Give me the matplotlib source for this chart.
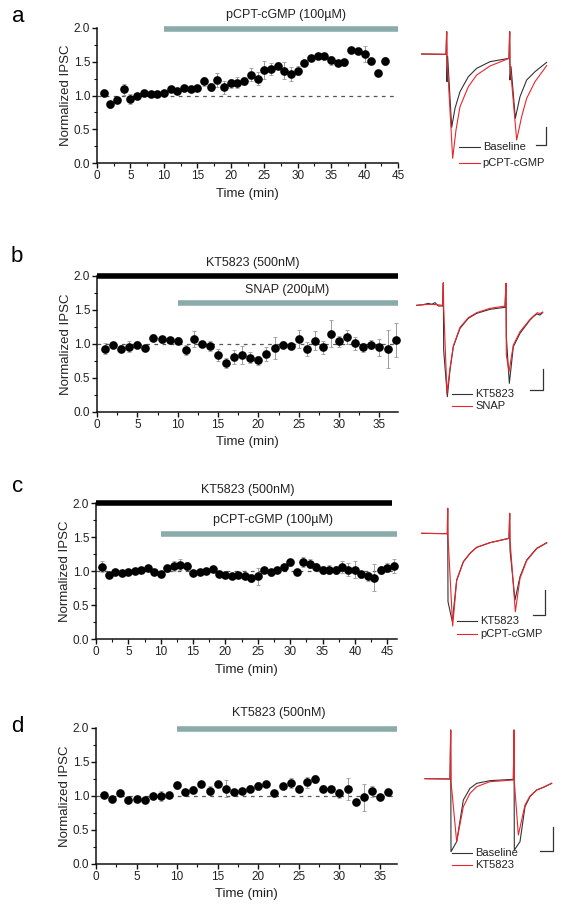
import numpy as np
import matplotlib
matplotlib.use('Agg')
import matplotlib.pyplot as plt
from matplotlib.ticker import MultipleLocator

plt.rcParams['font.family'] = ['Liberation Sans', 'DejaVu Sans']

# ---------------- data: time courses ----------------
time_a = list(range(1, 44))
ipsc_a = [1.04, 0.87, 0.93, 1.09, 0.95, 1.00, 1.03, 1.02, 1.02, 1.03,
          1.10, 1.06, 1.11, 1.09, 1.11, 1.21, 1.13, 1.23, 1.12, 1.18,
          1.19, 1.22, 1.31, 1.25, 1.38, 1.39, 1.44, 1.37, 1.32, 1.37,
          1.48, 1.56, 1.58, 1.59, 1.52, 1.48, 1.49, 1.67, 1.66, 1.61,
          1.51, 1.33, 1.51]
err_a = [0.04, 0.05, 0.04, 0.08, 0.07, 0.04, 0.03, 0.02, 0.03, 0.03,
         0.04, 0.03, 0.04, 0.04, 0.05, 0.07, 0.06, 0.10, 0.10, 0.07,
         0.08, 0.06, 0.10, 0.10, 0.13, 0.09, 0.05, 0.12, 0.10, 0.07,
         0.04, 0.03, 0.03, 0.04, 0.07, 0.05, 0.05, 0.04, 0.04, 0.12,
         0.04, 0.04, 0.06]

time_b = list(range(1, 38))
ipsc_b = [0.93, 0.98, 0.93, 0.96, 0.99, 0.94, 1.09, 1.07, 1.06, 1.05,
          0.91, 1.07, 1.00, 0.97, 0.84, 0.72, 0.81, 0.84, 0.80, 0.76,
          0.85, 0.94, 0.99, 0.97, 1.07, 0.93, 1.05, 0.95, 1.15, 1.04,
          1.10, 1.01, 0.95, 0.99, 0.95, 0.93, 1.06]
err_b = [0.08, 0.04, 0.05, 0.08, 0.05, 0.05, 0.05, 0.05, 0.05, 0.05,
         0.07, 0.12, 0.05, 0.08, 0.09, 0.08, 0.10, 0.13, 0.08, 0.07,
         0.10, 0.16, 0.05, 0.05, 0.13, 0.10, 0.14, 0.10, 0.20, 0.08,
         0.10, 0.10, 0.07, 0.07, 0.12, 0.28, 0.25]

time_c = list(range(1, 47))
ipsc_c = [1.06, 0.94, 0.98, 0.97, 0.98, 1.00, 1.01, 1.04, 0.99, 0.96,
          1.04, 1.07, 1.09, 1.07, 0.97, 0.98, 1.00, 1.03, 0.95, 0.94,
          0.93, 0.94, 0.93, 0.90, 0.92, 1.01, 0.98, 1.02, 1.06, 1.13,
          0.99, 1.13, 1.11, 1.06, 1.02, 1.02, 1.02, 1.06, 1.02, 1.02,
          0.95, 0.92, 0.90, 1.01, 1.05, 1.07]
err_c = [0.08, 0.04, 0.03, 0.03, 0.03, 0.03, 0.03, 0.03, 0.03, 0.03,
         0.05, 0.07, 0.08, 0.06, 0.04, 0.03, 0.03, 0.03, 0.04, 0.04,
         0.04, 0.04, 0.04, 0.06, 0.12, 0.04, 0.05, 0.04, 0.05, 0.05,
         0.04, 0.07, 0.07, 0.06, 0.06, 0.07, 0.06, 0.09, 0.10, 0.12,
         0.05, 0.07, 0.20, 0.06, 0.07, 0.10]

time_d = list(range(1, 37))
ipsc_d = [1.01, 0.96, 1.05, 0.94, 0.96, 0.94, 1.00, 1.00, 1.02, 1.16,
          1.06, 1.09, 1.17, 1.08, 1.17, 1.11, 1.06, 1.08, 1.11, 1.15,
          1.17, 1.05, 1.14, 1.19, 1.11, 1.20, 1.25, 1.11, 1.10, 1.04,
          1.10, 0.91, 0.98, 1.07, 0.99, 1.06]
err_d = [0.03, 0.03, 0.04, 0.03, 0.03, 0.03, 0.04, 0.07, 0.03, 0.05,
         0.04, 0.05, 0.04, 0.06, 0.04, 0.12, 0.04, 0.03, 0.05, 0.06,
         0.04, 0.04, 0.04, 0.07, 0.05, 0.08, 0.06, 0.05, 0.04, 0.07,
         0.16, 0.04, 0.20, 0.08, 0.04, 0.04]

# ---------------- data: example traces (arbitrary units) ----------------
tr_a_black_t = [35, 108, 110, 111, 113, 125, 135, 150, 175, 200, 240, 280, 297, 299, 300, 303, 316, 330, 350, 375, 410]
tr_a_black_i = [0, -1, 67, -83, -8, -220, -163, -113, -68, -43, -23, -16, -13, 67, -78, -38, -193, -128, -78, -53, -25]
tr_a_red_t = [35, 108, 110, 111, 128, 138, 150, 175, 200, 240, 280, 297, 299, 300, 320, 335, 350, 375, 410]
tr_a_red_i = [0, -1, 67, -8, -313, -228, -158, -98, -63, -36, -20, -13, 67, -28, -258, -188, -133, -83, -35]

tr_b_black_t = [20, 40, 55, 65, 75, 85, 98, 100, 101, 112, 120, 130, 150, 175, 200, 240, 285, 288, 289, 298, 310, 330, 360, 370, 380, 390, 398]
tr_b_black_i = [-1, 1, 5, 2, 7, -3, -3, 65, -135, -275, -195, -125, -70, -40, -25, -13, -7, 65, -95, -235, -125, -85, -45, -35, -27, -30, -23]
tr_b_red_t = [20, 40, 60, 80, 98, 100, 101, 111, 120, 130, 150, 175, 200, 240, 285, 288, 289, 297, 310, 330, 360, 372, 382, 390, 398]
tr_b_red_i = [-1, 1, 2, 1, -1, 67, -5, -265, -190, -123, -67, -38, -23, -10, -3, 65, -150, -200, -120, -80, -43, -32, -23, -26, -21]

tr_c_black_t = [35, 112, 113, 114, 127, 140, 160, 180, 200, 240, 297, 299, 300, 315, 330, 350, 380, 410]
tr_c_black_i = [0, -1, 75, -205, -265, -140, -85, -60, -42, -28, -15, 60, -50, -200, -130, -80, -45, -28]
tr_c_red_t = [35, 112, 113, 114, 128, 140, 160, 180, 200, 240, 297, 299, 300, 316, 330, 350, 380, 410]
tr_c_red_i = [0, -1, 75, -10, -278, -142, -86, -60, -42, -28, -15, 60, -20, -235, -135, -82, -46, -29]

tr_d_black_t = [45, 120, 122, 123, 140, 160, 180, 200, 240, 310, 312, 313, 330, 345, 360, 380, 400, 425]
tr_d_black_i = [1, 0, 147, -218, -188, -63, -28, -13, -5, -1, 147, -213, -188, -83, -53, -33, -25, -13]
tr_d_red_t = [45, 120, 122, 123, 140, 160, 180, 200, 240, 310, 312, 313, 325, 345, 360, 380, 400, 425]
tr_d_red_i = [1, 0, 147, -8, -188, -83, -43, -23, -8, -3, 147, -8, -168, -78, -51, -33, -25, -13]

legend_a = ['Baseline', 'pCPT-cGMP']
legend_b = ['KT5823', 'SNAP']
legend_c = ['KT5823', 'pCPT-cGMP']
legend_d = ['Baseline', 'KT5823']

# ---------------- styling ----------------
TEAL = '#8aaba9'
RED = '#e8262c'
TRACE_BLACK = '#333333'
TXT = '#222222'

W, H = 566, 906
fig = plt.figure(figsize=(W / 100, H / 100), dpi=100)


def rect(x0, y0, x1, y1):
    return [x0 / W, 1 - y1 / H, (x1 - x0) / W, (y1 - y0) / H]


panels = [
    dict(letter='a', t=time_a, y=ipsc_a, e=err_a, xmax=45, box=rect(97, 28, 398, 163),
         bars=[(10, 45, 1.98, TEAL, 'pCPT-cGMP (100\u00b5M)', 28.3, 2.19)],
         letter_xy=(12, 16),
         ibox=rect(410, 20, 566, 200), base=102, ih=540,
         traces=(tr_a_black_t, tr_a_black_i, tr_a_red_t, tr_a_red_i),
         sbar=(378, 408, -218, -273), leg=legend_a, leg_xy=(148, 382, 428)),
    dict(letter='b', t=time_b, y=ipsc_b, e=err_b, xmax=37.3, box=rect(97, 276, 398, 412),
         bars=[(0, 37.3, 2.0, 'black', 'KT5823 (500nM)', 19.3, 2.19),
               (10, 37.3, 1.60, TEAL, 'SNAP (200\u00b5M)', 23.6, 1.79)],
         letter_xy=(11, 257),
         ibox=rect(410, 270, 566, 430), base=105, ih=480,
         traces=(tr_b_black_t, tr_b_black_i, tr_b_red_t, tr_b_red_i),
         sbar=(360, 400, -193, -255), leg=legend_b, leg_xy=(125, 372, 408)),
    dict(letter='c', t=time_c, y=ipsc_c, e=err_c, xmax=46.5, box=rect(96, 503, 397, 639),
         bars=[(0, 45.7, 2.0, 'black', 'KT5823 (500nM)', 23.4, 2.19),
               (10, 46.5, 1.54, TEAL, 'pCPT-cGMP (100\u00b5M)', 27.3, 1.75)],
         letter_xy=(12, 487),
         ibox=rect(410, 490, 566, 650), base=130, ih=480,
         traces=(tr_c_black_t, tr_c_black_i, tr_c_red_t, tr_c_red_i),
         sbar=(370, 405, -170, -245), leg=legend_c, leg_xy=(140, 393, 432)),
    dict(letter='d', t=time_d, y=ipsc_d, e=err_d, xmax=37.1, box=rect(96, 728, 397, 864),
         bars=[(10, 37.1, 1.98, TEAL, 'KT5823 (500nM)', 22.5, 2.22)],
         letter_xy=(11, 727),
         ibox=rect(410, 710, 566, 890), base=207, ih=540,
         traces=(tr_d_black_t, tr_d_black_i, tr_d_red_t, tr_d_red_i),
         sbar=(390, 430, -145, -215), leg=legend_d, leg_xy=(125, 428, 466)),
]

for p in panels:
    ax = fig.add_axes(p['box'])
    ax.set_xlim(0, p['xmax'])
    ax.set_ylim(0, 2.0)
    for s in ('top', 'right'):
        ax.spines[s].set_visible(False)
    for s in ('left', 'bottom'):
        ax.spines[s].set_linewidth(1.1)
        ax.spines[s].set_color('#111111')
    ax.xaxis.set_major_locator(MultipleLocator(5))
    ax.xaxis.set_minor_locator(MultipleLocator(2.5))
    ax.yaxis.set_major_locator(MultipleLocator(0.5))
    ax.yaxis.set_minor_locator(MultipleLocator(0.25))
    ax.yaxis.set_major_formatter(matplotlib.ticker.FormatStrFormatter('%.1f'))
    ax.tick_params(which='major', direction='out', length=3.5, width=1, labelsize=8.5,
                   colors='#111111', labelcolor=TXT, pad=1.5)
    ax.tick_params(which='minor', direction='out', length=2, width=0.8, colors='#111111')
    ax.set_xlabel('Time (min)', fontsize=9.5, color=TXT, labelpad=4)
    ax.set_ylabel('Normalized IPSC', fontsize=9.5, color=TXT, labelpad=1)

    ax.axhline(1.0, color='#555555', lw=0.9, ls=(0, (3, 3.5)), zorder=1)
    ax.errorbar(p['t'], p['y'], yerr=p['e'], fmt='o', color='black', ms=5.2,
                ecolor='#9a9a9a', elinewidth=0.7, capsize=1.5, capthick=0.6, zorder=3,
                clip_on=False)

    for (x0, x1, yy, col, lab, lx, ly) in p['bars']:
        ax.plot([x0, x1], [yy, yy], color=col, lw=4, solid_capstyle='butt',
                clip_on=False, zorder=4)
        ax.text(lx, ly, lab, ha='center', va='center', fontsize=9, color=TXT,
                clip_on=False)

    fig.text(p['letter_xy'][0] / W, 1 - p['letter_xy'][1] / H, p['letter'],
             fontsize=16, ha='left', va='center', color='black')

    # trace inset
    ia = fig.add_axes(p['ibox'])
    ia.set_xlim(0, 468)
    ia.set_ylim(p['base'] - p['ih'], p['base'])
    ia.axis('off')
    bt, bi, rt, ri = p['traces']
    ia.plot(bt, bi, color=TRACE_BLACK, lw=0.8, zorder=2)
    ia.plot(rt, ri, color=RED, lw=0.8, zorder=3)
    sx0, sx1, sy0, sy1 = p['sbar']
    ia.plot([sx0, sx1, sx1], [sy1, sy1, sy0], color='#333333', lw=0.9)
    lx, ly1, ly2 = p['leg_xy']
    for yy, col, lab in ((ly1, TRACE_BLACK, p['leg'][0]), (ly2, RED, p['leg'][1])):
        yv = p['base'] - yy
        ia.plot([lx, lx + 62], [yv, yv], color=col, lw=0.8)
        ia.text(lx + 70, yv, lab, fontsize=8, va='center', ha='left', color=TXT)

fig.savefig('out.png', dpi=100)
